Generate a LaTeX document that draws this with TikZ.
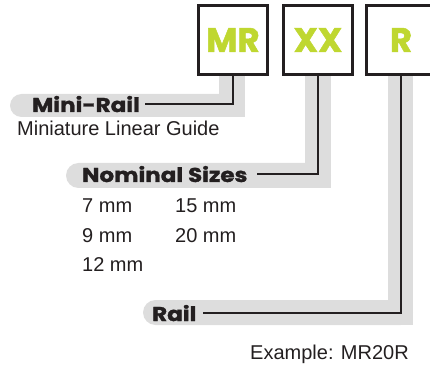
\documentclass[tikz,border=0pt]{standalone}
\usepackage{fontspec}
\setmainfont{Liberation Sans}
\newfontfamily\heavyfont{Poppins}[FakeStretch=1.15, FakeBold=1.5]
\newfontfamily\codefont{Poppins}[FakeBold=1.5]
\definecolor{inkdark}{HTML}{231F20}
\definecolor{bandgray}{HTML}{DDDDDD}
\definecolor{lime}{HTML}{BFD730}
\tikzset{
  codebox/.style={draw=inkdark, line width=3pt, fill=white, minimum width=69pt, minimum height=69pt, inner sep=0pt,
     text=lime, font=\codefont\bfseries\fontsize{34}{34}\selectfont},
  heavylbl/.style={text=inkdark, font=\heavyfont\bfseries\fontsize{20}{20}\selectfont, inner ysep=0pt, anchor=base west},
  plain/.style={text=inkdark, font=\fontsize{20}{20}\selectfont, inner sep=0pt, anchor=base west},
  conn/.style={draw=inkdark, line width=2.6pt},
  band/.style={fill=bandgray}
}
\begin{document}
\begin{tikzpicture}[x=1pt,y=-1pt]
\useasboundingbox (0,0) rectangle (430,371);
% shaded bands
\fill[band, rounded corners=11.5pt] (10,94) rectangle (245,117);
\fill[band] (219,76) rectangle (245,117);
\fill[band, rounded corners=12.5pt] (66,163) rectangle (331,188);
\fill[band] (305,76) rectangle (331,188);
\fill[band, rounded corners=12.5pt] (143,300) rectangle (413,325);
\fill[band] (388,76) rectangle (413,325);
% code boxes
\node[codebox] (mr) at (233,40) {MR};
\node[codebox] (xx) at (318,40) {XX};
\node[codebox] (r) at (401,40) {R};
% labels
\node[heavylbl, inner xsep=5pt] (minirail) at (27,112) {Mini-Rail};
\node[heavylbl, inner xsep=9pt] (nominal) at (73,182) {Nominal Sizes};
\node[heavylbl, inner xsep=6pt] (rail) at (146,321) {Rail};
% connectors
\draw[conn] (mr.south) |- (minirail.east);
\draw[conn] (xx.south) |- (nominal.east);
\draw[conn] (r.south) |- (rail.east);
% plain texts
\node[plain] (guide) at (17,136) {Miniature Linear Guide};
\node[plain] (s7) at (82,212) {7 mm};
\node[plain] (s15) at (175,212) {15 mm};
\node[plain] (s9) at (82,242) {9 mm};
\node[plain] (s20) at (175,242) {20 mm};
\node[plain] (s12) at (82,271) {12 mm};
\node[plain] (example) at (250,359) {Example: MR20R};
\end{tikzpicture}
\end{document}
